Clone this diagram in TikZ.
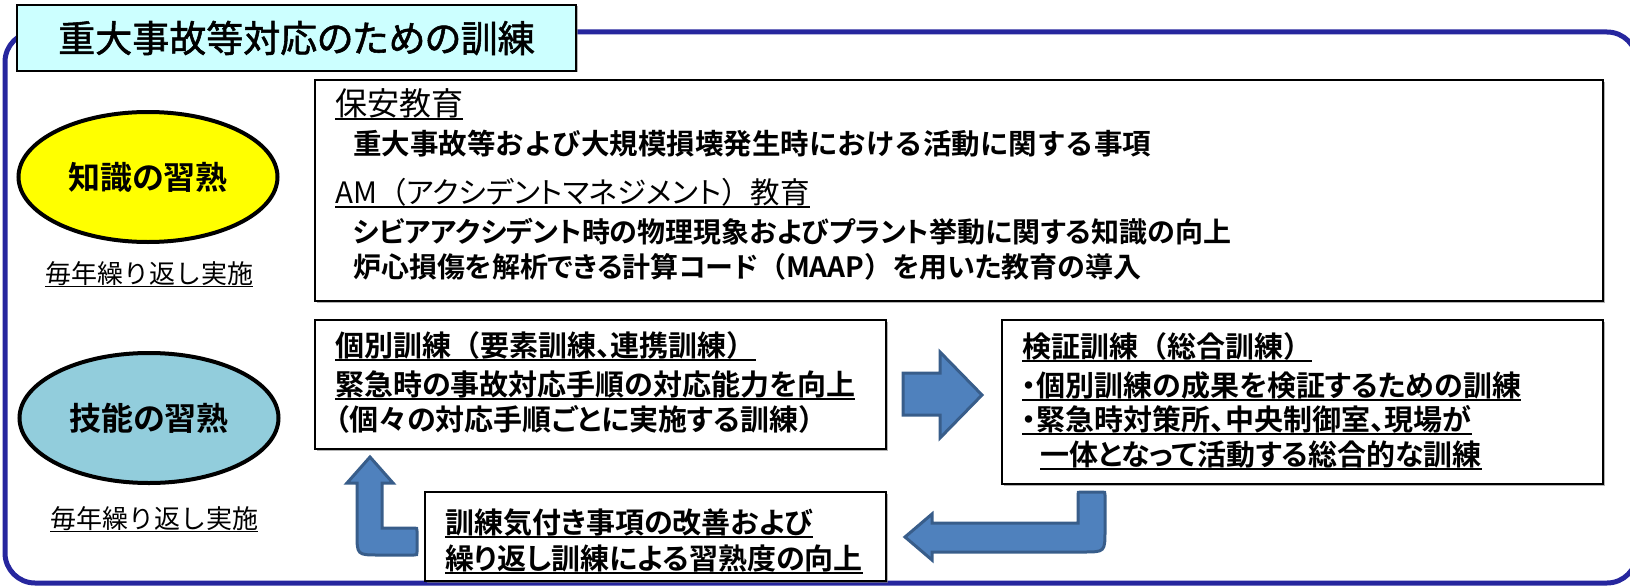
\documentclass[tikz,border=0pt]{standalone}
\usepackage{fontspec}
\usetikzlibrary{shapes.geometric,shadows}
\newfontfamily\jp[RawFeature=+palt,BoldFont={Noto Sans CJK JP Bold}]{Noto Sans CJK JP}
\newfontfamily\jpn[BoldFont={Noto Sans CJK JP Bold}]{Noto Sans CJK JP}
\newfontfamily\jpt[RawFeature=+palt,FakeBold=1.5]{Noto Sans CJK JP}
\newsavebox\ulbox
\newcommand\ulx[1]{\sbox\ulbox{#1}\rlap{\rule[-0.17em]{\wd\ulbox}{0.07em}}\usebox\ulbox}
\newcommand\lpar{{\jpn （}}
\newcommand\rpar{{\jpn ）}}
\definecolor{framec}{RGB}{38,38,158}
\definecolor{titlec}{RGB}{204,255,255}
\definecolor{yelc}{RGB}{255,255,0}
\definecolor{skyc}{RGB}{146,205,220}
\definecolor{arrf}{RGB}{79,129,189}
\definecolor{arrd}{RGB}{56,93,138}
\begin{document}
\begin{tikzpicture}[x=1pt,y=-1pt,
  softshadow/.style={drop shadow={shadow xshift=1.5pt,shadow yshift=-1.5pt,fill=gray,opacity=0.6}},
  boxn/.style={draw=black,line width=1.5pt,fill=white,inner sep=0pt,softshadow},
  lbl/.style={anchor=base west,inner sep=0pt},
  fb/.style={font=\jp\bfseries\fontsize{28}{34}\selectfont},
  fbn/.style={font=\jpn\bfseries\fontsize{28.5}{34}\selectfont},
  fb2/.style={font=\jp\bfseries\fontsize{29}{34}\selectfont},
  ell/.style={ellipse,draw=black,line width=4pt,inner sep=0pt,minimum width=259pt,minimum height=130pt,font=\jp\bfseries\fontsize{32}{36}\selectfont},
  yearly/.style={anchor=base,inner sep=0pt,font=\jpn\fontsize{26}{30}\selectfont},
  blockarrow/.style={fill=arrf,draw=arrd,line width=3pt}]
\useasboundingbox (0,0) rectangle (1630,586);
% outer frame
\draw[framec,line width=5pt,rounded corners=30pt] (5,32) rectangle (1637,583);
% title
\node[draw=black,line width=1.5pt,fill=titlec,minimum width=559pt,minimum height=66pt,inner sep=0pt,softshadow,
  font=\jpt\fontsize{37}{40}\selectfont] (title) at (296.5,38) {重大事故等対応のための訓練};
% ellipses
\node[ell,fill=yelc] (e1) at (148,177) {知識の習熟};
\node[yearly] (y1) at (149,283) {\ulx{毎年繰り返し実施}};
\node[ell,fill=skyc] (e2) at (149,418) {技能の習熟};
\node[yearly] (y2) at (154,528) {\ulx{毎年繰り返し実施}};
% knowledge box
\node[boxn,minimum width=1288pt,minimum height=221pt] (know) at (959,190.5) {};
\node[lbl,font=\jp\fontsize{32}{36}\selectfont] (k1) at (335,115) {\ulx{保安教育}};
\node[lbl,fbn] (k2) at (353,154) {重大事故等および大規模損壊発生時における活動に関する事項};
\node[lbl,font=\jp\fontsize{29.5}{34}\selectfont] (k3) at (335,203) {\ulx{AM\lpar アクシデントマネジメント\rpar 教育}};
\node[lbl,fb] (k4) at (353,242) {シビアアクシデント時の物理現象およびプラント挙動に関する知識の向上};
\node[lbl,fb] (k5) at (353,277) {炉心損傷を解析できる計算コード\lpar MAAP\rpar を用いた教育の導入};
% individual training box
\node[boxn,minimum width=571pt,minimum height=129pt] (ind) at (600.5,384.5) {};
\node[lbl,fb2] (i1) at (335,356) {\ulx{個別訓練\lpar 要素訓練、連携訓練\rpar}};
\node[lbl,fb2] (i2) at (335,395) {\ulx{緊急時の事故対応手順の対応能力を向上}};
\node[lbl,fb2] (i3) at (335,430) {（個々の対応手順ごとに実施する訓練\rpar};
% verification box
\node[boxn,minimum width=601pt,minimum height=164pt] (ver) at (1302.5,402) {};
\node[lbl,fb2] (v1) at (1022,357) {\ulx{検証訓練\lpar 総合訓練\rpar}};
\node[lbl,fb2] (v2) at (1022,396) {\ulx{・個別訓練の成果を検証するための訓練}};
\node[lbl,fb2] (v3) at (1022,430) {\ulx{・緊急時対策所、中央制御室、現場が}};
\node[lbl,fb2] (v4) at (1040,465) {\ulx{一体となって活動する総合的な訓練}};
% feedback box
\node[boxn,minimum width=461pt,minimum height=89pt] (fbk) at (655.5,536.5) {};
\node[lbl,fb2] (f1) at (445,533) {\ulx{訓練気付き事項の改善および}};
\node[lbl,fb2] (f2) at (445,569) {\ulx{繰り返し訓練による習熟度の向上}};
% block arrows
\draw[blockarrow] (903,373) -- (940,373) -- (940,352) -- (982,395) -- (940,438) -- (940,415) -- (903,415) -- cycle;
\draw[blockarrow] (905,537) -- (932,514) -- (932,523) -- (1078,523) -- (1078,495)
  .. controls (1078,492) .. (1081,492) -- (1102,492) .. controls (1105,492) .. (1105,495)
  -- (1105,530) .. controls (1105,552) .. (1083,552) -- (932,552) -- (932,560) -- cycle;
\draw[blockarrow] (370,457) -- (393,483) -- (382,483) -- (382,528) -- (414,528)
  .. controls (417,528) .. (417,531) -- (417,552) .. controls (417,555) .. (414,555)
  -- (379,555) .. controls (357,555) .. (357,533) -- (357,483) -- (347,483) -- cycle;
\end{tikzpicture}
\end{document}
